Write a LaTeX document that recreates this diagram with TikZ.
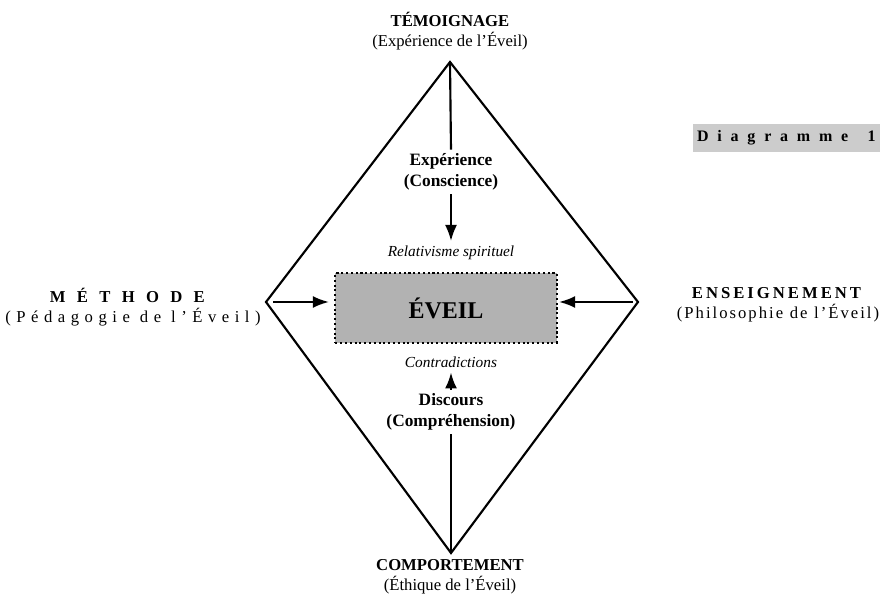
\documentclass[tikz,border=0pt]{standalone}
\usepackage{fontspec}
\setmainfont{Liberation Serif}
\usetikzlibrary{arrows.meta, calc}
\newcommand{\wgap}[1]{\hspace{#1em}}

\tikzset{
  pole/.style={align=center, font=\fontsize{12.5}{15}\selectfont},
  inner/.style={align=center, font=\fontsize{13}{16}\selectfont\bfseries, inner sep=2pt},
  note/.style={font=\fontsize{11.5}{13}\selectfont\itshape, inner sep=3pt}
}

\begin{document}
\begin{tikzpicture}[>={Latex[length=12pt,width=9pt]}, x=0.75pt, y=-0.75pt, line width=1.6pt]
\useasboundingbox (0,0) rectangle (883,598);
% the four corners
\coordinate (T) at (450,62);
\coordinate (B) at (451,553);
\coordinate (L) at (266,302);
\coordinate (R) at (638,302);
\draw (T) -- (R) -- (B) -- (L) -- cycle;
% poles
\node[pole] at (450,31) (temoin) {\textbf{TÉMOIGNAGE}\\(Expérience de l’Éveil)};
\node[pole] at (450,577) (comport) {\textbf{COMPORTEMENT}\\(Éthique de l’Éveil)};
\node[pole] at (133,307) (methode) {{\addfontfeature{LetterSpace=68}\textbf{MÉTHODE}}\\{\addfontfeature{LetterSpace=33}(Pédagogie\wgap{0.6}de\wgap{0.6}l’Éveil)}};
\node[pole] at (778,305) (enseign) {{\addfontfeature{LetterSpace=18}\textbf{ENSEIGNEMENT}}\\{\addfontfeature{LetterSpace=12}(Philosophie\wgap{0.4}de\wgap{0.4}l’Éveil)}};
\node[fill=black!20, anchor=west, inner sep=3pt, minimum height=21pt,
  font=\fontsize{12}{14}\selectfont\bfseries\addfontfeature{LetterSpace=55}]
  at (692,138) (diag) {Diagramme\wgap{1.2}1};
% centre
\node[draw, dotted, line width=1.6pt, fill=black!30, minimum width=166pt, minimum height=52pt,
  font=\fontsize{18}{20}\selectfont\bfseries] at (446,308) (eveil) {ÉVEIL};
\node[note] at (451,253) (relat) {Relativisme spirituel};
\node[note] at (451,362) (contra) {Contradictions};
\node[inner] at (451,172) (exper) {Expérience\\(Conscience)};
\node[inner] at (451,412) (disc) {Discours\\(Compréhension)};
% connectors
\draw (T) -- (exper.north);
\draw[->] (exper.south) -- (relat.north);
\draw (B) -- (disc.south);
\draw[->] (disc.north) -- (contra.south);
\draw[->, shorten >=4pt] ($(L)+(7,0)$) -- (L -| eveil.west);
\draw[->, shorten >=1pt] ($(R)+(-5,0)$) -- (R -| eveil.east);
\end{tikzpicture}
\end{document}
